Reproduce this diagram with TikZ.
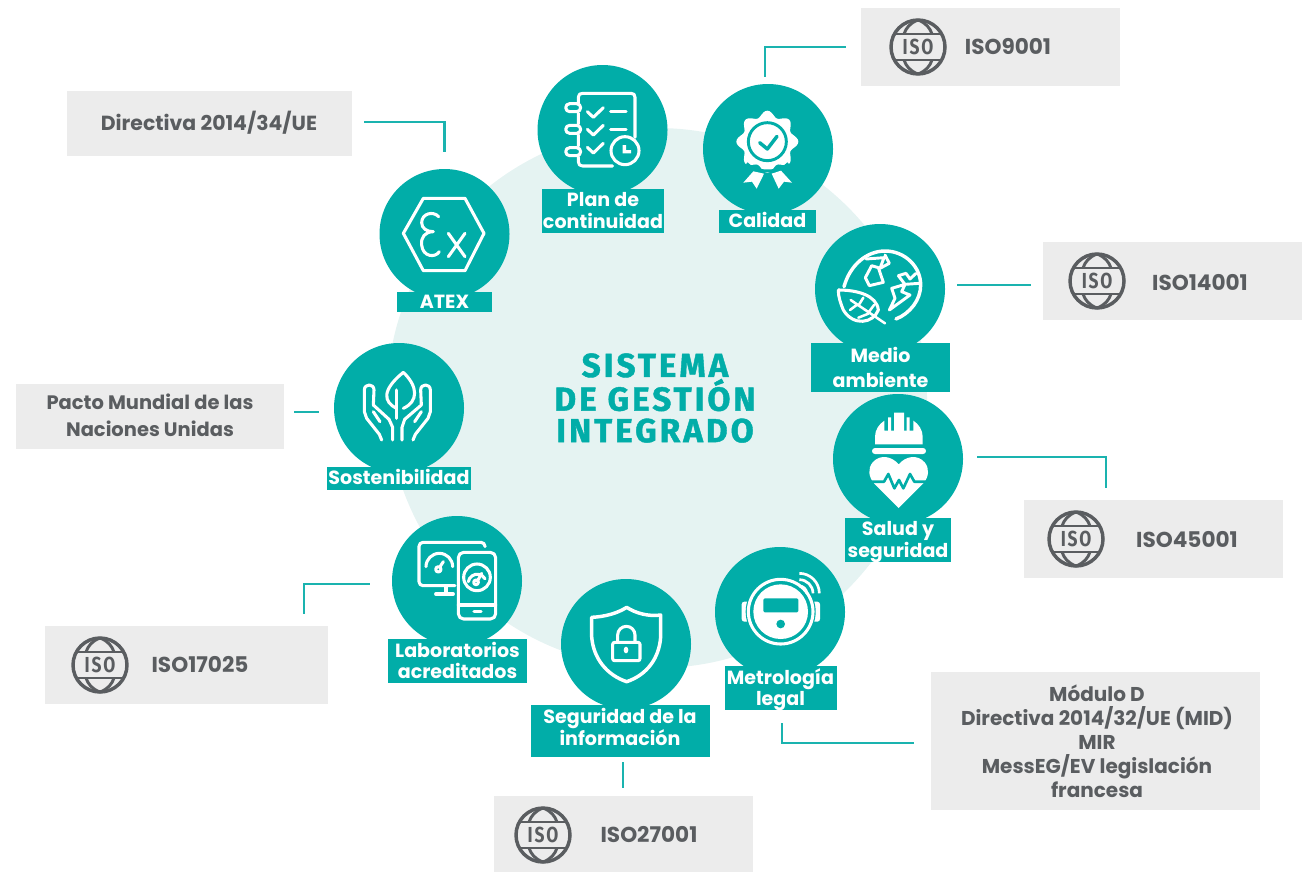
\documentclass[tikz,border=0pt]{standalone}
\usepackage{fontspec}
\usetikzlibrary{calc}
\setmainfont{Poppins}
\newfontfamily\titlefont[LetterSpace=9,BoldFeatures={FakeBold=1.3}]{Fira Sans}
\newfontfamily\isofont[LetterSpace=10]{Fira Sans}
\definecolor{teal}{HTML}{01ADA8}
\definecolor{linkteal}{HTML}{1AB3AF}
\definecolor{pale}{HTML}{E5F3F2}
\definecolor{boxgrey}{HTML}{ECECEC}
\definecolor{txtgrey}{HTML}{5A5D60}
\tikzset{
  disc/.style={circle,fill=teal,minimum size=97.5pt,inner sep=0pt},
  tag/.style={fill=teal,text=white,inner sep=0pt,align=center,font=\bfseries\fontsize{14.3}{15.9}\selectfont},
  greybox/.style={fill=boxgrey,inner sep=0pt},
  greytxt/.style={text=txtgrey,inner sep=0pt,align=center,font=\bfseries\fontsize{15}{18}\selectfont},
  isotxt/.style={greytxt,font=\bfseries\fontsize{16.2}{18}\selectfont},
  link/.style={draw=linkteal,line width=1.9pt},
  ico/.style={draw=white,line width=2.3pt,line cap=round,line join=round},
  zoomed/.style={x=0.25pt,y=-0.25pt},
}
% box by corners: name, x0, y0, x1, y1, style
\newcommand\boxat[6]{%
  \pgfmathsetmacro\bw{(#4-#2)*0.75}\pgfmathsetmacro\bh{(#5-#3)*0.75}%
  \node[#6,minimum width=\bw pt,minimum height=\bh pt] (#1) at ({(#2+#4)/2},{(#3+#5)/2}) {};}
\newcommand\isoicon[2]{%
  \begin{scope}[shift={#2}]
    \draw[txtgrey,line width=2.6pt] (0,0) circle (27);
    \draw[txtgrey,line width=2.2pt] (-25,-13) -- (25,-13) (-25,13) -- (25,13);
    \draw[txtgrey,line width=2.2pt] (0,-27) .. controls (-8,-24) and (-12,-19) .. (-14,-13)
      (0,-27) .. controls (8,-24) and (12,-19) .. (14,-13)
      (0,27) .. controls (-8,24) and (-12,19) .. (-14,13)
      (0,27) .. controls (8,24) and (12,19) .. (14,13);
    \node[text=txtgrey,inner sep=0pt,font=\isofont\bfseries\fontsize{16.3}{16}\selectfont] (#1) at (0,0) {\scalebox{0.8}[1]{ISO}};
  \end{scope}}
\begin{document}
\begin{tikzpicture}[x=0.75pt,y=-0.75pt]
\useasboundingbox (0,0) rectangle (1305,872);
\fill[pale] (657,398) circle (270);

% discs
\node[disc] (plan) at (602.5,130) {};
\node[disc] (atex) at (444.5,234) {};
\node[disc] (cal) at (768,149) {};
\node[disc] (med) at (880,289) {};
\node[disc] (sal) at (898,459) {};
\node[disc] (sos) at (399,408) {};
\node[disc] (lab) at (457,581) {};
\node[disc] (seg) at (626,644) {};
\node[disc] (met) at (780,612) {};

% Plan icon
\begin{scope}[shift={(370,60)},zoomed]
  \draw[ico] (625,130) -- (625,112) .. controls (625,103) and (630,100) .. (638,100) -- (783,100) .. controls (791,100) and (795,104) .. (795,112) -- (795,232);
  \draw[ico] (625,160) -- (625,192) (625,224) -- (625,258) (625,290) -- (625,305) .. controls (625,314) and (630,318) .. (638,318) -- (728,318);
  \foreach \yy in {143,208,275} \draw[ico] (599,\yy-12) -- (620,\yy-12) arc (-90:90:12) -- (599,\yy+12) arc (90:270:12) -- cycle;
  \draw[ico] (652,155) -- (670,172) -- (700,143);
  \draw[ico] (652,208) -- (670,225) -- (700,196);
  \draw[ico] (652,262) -- (670,279) -- (700,250);
  \draw[ico] (722,155) -- (768,155) (722,208) -- (768,208);
  \draw[ico] (765,272) circle (42);
  \fill[white] (758,255) rectangle (768,280) (758,270) rectangle (783,280);
\end{scope}

% ATEX icon
\begin{scope}[shift={(370,60)},zoomed]
  \draw[ico] (100,520) -- (160,415) -- (285,415) -- (342,520) -- (285,632) -- (160,632) -- cycle;
  \draw[ico] (206,470) .. controls (190,452) and (155,460) .. (155,488) .. controls (155,505) and (170,515) .. (190,515)
     .. controls (165,515) and (152,532) .. (155,555) .. controls (158,590) and (195,595) .. (208,575);
  \draw[ico] (235,520) -- (285,590) (285,520) -- (235,590);
\end{scope}

% Calidad icon
\begin{scope}[shift={(690,0)},zoomed]
  \fill[white] plot[smooth cycle,samples=96,domain=0:356.25] ({232+(84+9*cos(8*\x))*cos(\x)},{425+(84+9*cos(8*\x))*sin(\x)});
  \draw[teal,line width=2.2pt] (232,425) circle (57);
  \draw[teal,line width=2.6pt,line cap=round,line join=round] (209,428) -- (232,447) -- (261,409);
  \draw[teal,line width=2pt] (170,490) .. controls (195,520) and (270,520) .. (295,490);
  \fill[white] (190,514) -- (222,521) -- (200,566) -- (186,545) -- (160,548) -- cycle;
  \fill[white] (245,521) -- (273,512) -- (306,548) -- (282,545) -- (266,566) -- cycle;
\end{scope}

% Medio ambiente icon
\begin{scope}[shift={(830,245)},zoomed]
  \draw[ico,line width=2.6pt] (42,125) .. controls (60,60) and (110,18) .. (165,18) .. controls (225,18) and (272,65) .. (272,120) .. controls (272,165) and (240,205) .. (198,222);
  \draw[ico,line width=2.2pt] (125,62) -- (106,98) -- (118,122) -- (160,112) -- (145,68) -- cycle;
  \draw[ico,line width=2.2pt] (108,42) -- (162,38) -- (150,70) -- (178,55) -- (165,30);
  \draw[ico,line width=2.2pt] (205,92) -- (228,85) -- (240,102) -- (258,85) (205,92) -- (225,118) -- (268,115) (225,118) -- (185,130) -- (195,160) -- (178,195) -- (240,150) -- (215,140) -- (225,118);
  \filldraw[ico,fill=teal] (25,135) .. controls (80,135) and (140,150) .. (145,195) .. controls (130,235) and (70,245) .. (40,195) .. controls (30,170) and (25,155) .. (25,135);
  \draw[ico,line width=1.9pt] (62,165) -- (165,235) (85,182) -- (100,158) (115,203) -- (132,180) (80,180) -- (60,195) (115,206) -- (85,218);
\end{scope}

% Salud icon
\begin{scope}[shift={(800,220)},zoomed]
  \fill[white] (225,673) -- (225,650) .. controls (225,630) and (237,612) .. (253,602) -- (253,632) -- (340,632) -- (340,602) .. controls (356,612) and (368,630) .. (368,650) -- (368,673) -- cycle;
  \fill[white] (264,592) rectangle (273,636) (320,592) rectangle (329,636) (282,578) rectangle (312,636);
  \fill[white,rounded corners=2.2pt] (216,684) rectangle (378,702);
  \fill[white] (296,864) -- (222,790) .. controls (205,770) and (203,745) .. (218,727) .. controls (240,702) and (275,708) .. (296,733) .. controls (317,708) and (352,702) .. (374,727) .. controls (389,745) and (387,770) .. (370,790) -- cycle;
  \draw[teal,line width=2pt,line join=round] (205,785) -- (252,785) -- (265,762) -- (283,805) -- (297,780) -- (310,805) -- (330,762) -- (343,785) -- (390,785);
\end{scope}

% Sostenibilidad icon
\begin{scope}[shift={(320,340)},zoomed]
  \draw[ico] (229,205) .. controls (190,185) and (185,150) .. (250,97) .. controls (295,140) and (295,185) .. (250,205);
  \draw[ico] (229,150) -- (229,235);
  \draw[ico] (185,300) -- (178,283) -- (140,235) -- (133,215) -- (133,150) .. controls (133,130) and (162,130) .. (162,150) -- (160,195) -- (207,238) -- (218,262) -- (218,300);
  \draw[ico] (279,300) -- (286,283) -- (324,235) -- (331,215) -- (331,150) .. controls (331,130) and (302,130) .. (302,150) -- (304,195) -- (254,238) -- (246,262) -- (246,300);
  \draw[ico] (160,215) -- (180,245) (304,215) -- (284,245);
\end{scope}

% Laboratorios icon
\begin{scope}[shift={(320,340)},zoomed]
  \draw[ico,rounded corners=3pt] (495,620) -- (495,607) -- (297,607) -- (297,737) -- (405,737);
  \draw[ico] (378,737) -- (378,762) (347,762) -- (400,762);
  \draw[ico] (318,680) arc (180:360:40);
  \draw[ico] (355,688) circle (8);
  \draw[ico] (360,680) -- (370,665);
  \draw[ico,rounded corners=4pt] (415,637) rectangle (527,837);
  \draw[ico] (415,795) -- (527,795) (462,815) -- (483,815);
  \draw[ico] (471,712) circle (40);
  \draw[ico] (445,725) arc (190:330:27);
  \draw[ico] (468,727) circle (7);
  \draw[ico] (474,720) -- (485,700);
\end{scope}

% Seguridad icon
\begin{scope}[shift={(530,540)},zoomed]
  \draw[ico,line width=2.6pt] (290,202) .. controls (262,220) and (225,230) .. (185,232) -- (185,290) .. controls (190,355) and (230,405) .. (290,425) .. controls (350,405) and (388,355) .. (392,290) -- (392,225) .. controls (355,230) and (318,220) .. (290,202) -- cycle;
  \draw[ico,rounded corners=1.5pt] (248,307) rectangle (330,362);
  \draw[ico] (263,305) -- (263,285) arc (180:360:26) -- (315,305);
  \fill[white] (288,330) ellipse (7 and 10);
\end{scope}

% Metrologia icon
\begin{scope}[shift={(530,540)},zoomed]
  \fill[white,rounded corners=2pt] (635,185) rectangle (670,245) (835,185) rectangle (870,245);
  \fill[teal] (752,215) circle (105);
  \draw[white,line width=2.3pt] (752,215) circle (97);
  \fill[white] (752,215) circle (82);
  \fill[teal,rounded corners=1pt] (700,175) rectangle (805,217);
  \fill[teal] (752,252) circle (13);
  \draw[ico,line width=2pt,line cap=butt] (808,100) arc (-90:0:60);
  \draw[ico,line width=2pt,line cap=butt] (808,119) arc (-90:0:41);
  \draw[ico,line width=2pt,line cap=butt] (808,138) arc (-90:0:22);
\end{scope}

% tags
\boxat{planbox}{542}{189}{664}{233}{tag}
\boxat{atexbox}{397}{292}{492}{312}{tag}
\boxat{calbox}{719}{210}{816}{233}{tag}
\boxat{medbox}{811}{343}{950}{392}{tag}
\boxat{salbox}{845}{518}{951}{562}{tag}
\boxat{sosbox}{327}{467}{471}{490}{tag}
\boxat{labbox}{388}{639}{527}{683}{tag}
\boxat{segbox}{531}{705}{710}{757}{tag}
\boxat{metbox}{725}{666}{837}{710}{tag}
\node[tag,fill=none] (plantxt) at (603,210.5) {Plan de\\continuidad};
\node[tag,fill=none] (atextxt) at (444.5,302) {ATEX};
\node[tag,fill=none] (caltxt) at (767.5,220) {Calidad};
\node[tag,fill=none,font=\bfseries\fontsize{14.3}{18.7}\selectfont] (medtxt) at (880.5,367) {Medio\\ambiente};
\node[tag,fill=none,font=\bfseries\fontsize{14.3}{16.4}\selectfont] (saltxt) at (898,542) {Salud y\\seguridad};
\node[tag,fill=none] (sostxt) at (399,477) {Sostenibilidad};
\node[tag,fill=none] (labtxt) at (457.5,660.5) {Laboratorios\\acreditados};
\node[tag,fill=none] (segtxt) at (620,727) {Seguridad de la\\información};
\node[tag,fill=none] (mettxt) at (780.5,689.5) {Metrología\\legal};

% grey boxes
\boxat{iso9}{861}{8}{1120}{86}{greybox}
\boxat{dir}{67}{91}{352}{156}{greybox}
\boxat{iso14}{1043}{242}{1302}{320}{greybox}
\boxat{iso45}{1024}{500}{1283}{578}{greybox}
\boxat{pacto}{16}{384}{284}{449}{greybox}
\boxat{iso17}{45}{626}{328}{704}{greybox}
\boxat{iso27}{494}{796}{753}{872}{greybox}
\boxat{mid}{931}{672}{1260}{810}{greybox}

\isoicon{isoa}{(918,47)}
\isoicon{isob}{(1097,281)}
\isoicon{isoc}{(1076,539)}
\isoicon{isod}{(100,665)}
\isoicon{isoe}{(543,835)}

\node[isotxt] (t9) at (1008,47) {ISO9001};
\node[isotxt] (t14) at (1200,283) {ISO14001};
\node[isotxt] (t45) at (1187,540) {ISO45001};
\node[isotxt] (t17) at (200,665) {ISO17025};
\node[isotxt] (t27) at (649,835) {ISO27001};
\node[greytxt,font=\bfseries\fontsize{15.3}{18}\selectfont] (tdir) at (209,123) {Directiva 2014/34/UE};
\node[greytxt,font=\bfseries\fontsize{14.6}{20.2}\selectfont] (tpacto) at (150,415.5) {Pacto Mundial de las\\Naciones Unidas};
\node[greytxt] (tmid) at (1097,741) {Módulo D\\Directiva 2014/32/UE (MID)\\MIR\\MessEG/EV legislación\\francesa};

% title
\node[text=teal,inner sep=0pt,align=center,font=\titlefont\bfseries\fontsize{25}{23.6}\selectfont] (title) at (655,398) {SISTEMA\\DE GESTIÓN\\INTEGRADO};

% connectors
\draw[link] ($(dir.east)+(12,-1.5)$) -| ($(atex.north)+(0,-17)$);
\draw[link] ($(iso9.west)+(-15,0)$) -| ($(cal.north)+(-3,-7)$);
\draw[link] ($(iso14.west)+(-12,4)$) -- ($(med.east)+(12,-4)$);
\draw[link] ($(sal.east)+(14,-2)$) -| ($(iso45.north)+(-47.5,-12)$);
\draw[link] ($(pacto.east)+(10,-4.5)$) -- ($(sos.west)+(-15,4)$);
\draw[link] ($(lab.west)+(-22,3)$) -| ($(iso17.north)+(117.5,-12)$);
\draw[link] ($(segbox.south)+(2.5,5)$) -- ($(iso27.north)+(-0.5,-8)$);
\draw[link] ($(metbox.south)+(1,13)$) |- ($(mid.west)+(-17,2)$);
\end{tikzpicture}
\end{document}
